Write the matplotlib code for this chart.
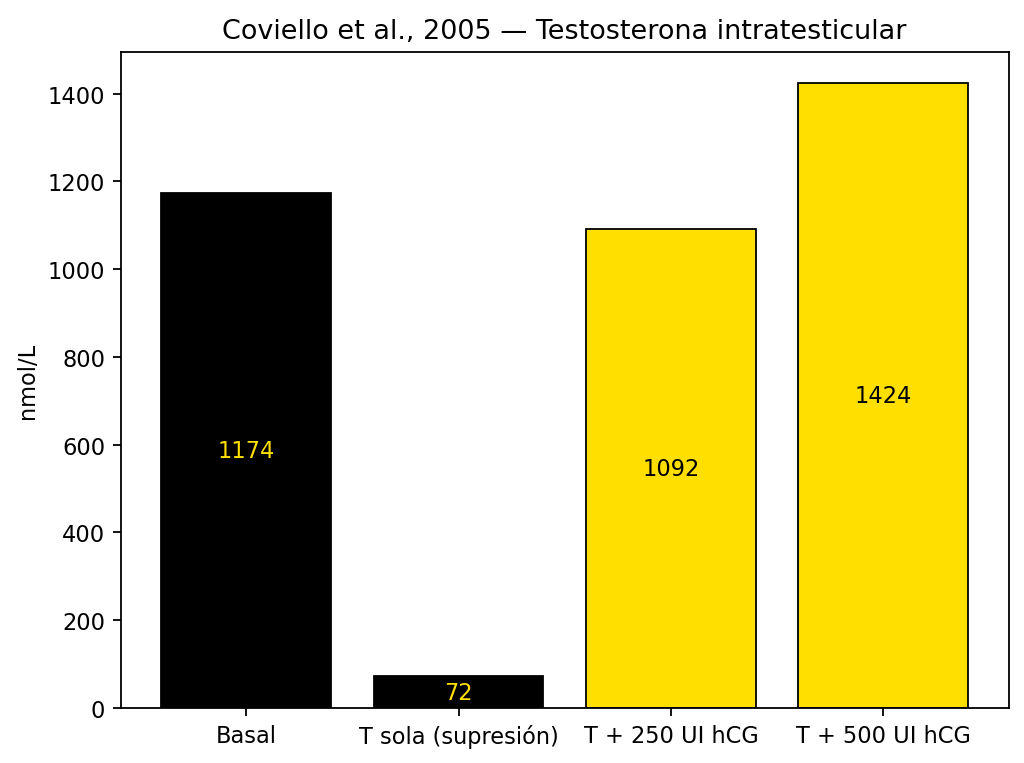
import matplotlib
matplotlib.use("Agg")
import matplotlib.pyplot as plt

# Datos
grupos = ['Basal', 'T sola (supresión)', 'T + 250 UI hCG', 'T + 500 UI hCG']
valores = [1174, 72, 1092, 1424]
colores = ['black', 'black', '#FFDF00', '#FFDF00']
colores_texto = ['#FFDF00', '#FFDF00', 'black', 'black']

fig, ax = plt.subplots(figsize=(1024 / 162, 764 / 162), dpi=162)
bars = ax.bar(grupos, valores, color=colores, edgecolor='black', linewidth=0.8)

for b, v, c in zip(bars, valores, colores_texto):
    ax.text(b.get_x() + b.get_width() / 2, v / 2, str(v), ha='center', va='center', color=c)

ax.set_ylabel('nmol/L')
ax.set_title('Coviello et al., 2005 — Testosterona intratesticular')

plt.subplots_adjust(left=0.118, right=0.985, top=0.931, bottom=0.072)
plt.savefig('out.png')
